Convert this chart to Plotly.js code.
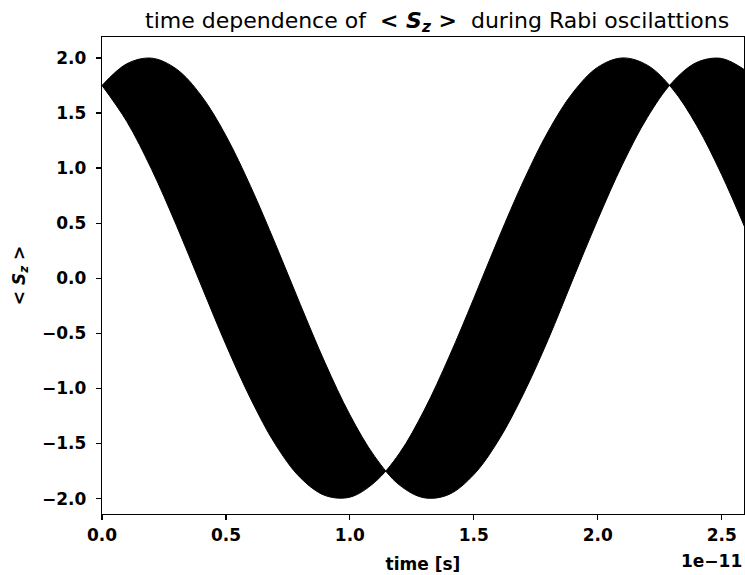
<!DOCTYPE html>
<html>
<head>
<meta charset="utf-8">
<script src="https://cdn.plot.ly/plotly-3.0.1.min.js"></script>
<style>html,body{margin:0;padding:0;background:#fff;}#chart{width:745px;height:575px;}</style>
</head>
<body>
<div id="chart"></div>
<script>
// time in units of 1e-11 s
const time = [0.0,0.1,0.2,0.3,0.4,0.5,0.6,0.7,0.8,0.9,1.0,1.1,1.2,1.3,1.4,1.5,1.6,1.7,1.8,1.9,2.0,2.1,2.2,2.3,2.4,2.5,2.6];
// envelope curves of the fast oscillating <S_z>
const envelopeA = [1.750,1.947,1.998,1.900,1.659,1.294,0.831,0.309,-0.238,-0.768,-1.240,-1.617,-1.877,-1.993,-1.962,-1.782,-1.470,-1.051,-0.556,-0.007,0.533,1.035,1.460,1.777,1.960,1.995,1.881];
const envelopeB = [1.750,1.423,0.989,0.481,-0.063,-0.603,-1.095,-1.510,-1.810,-1.972,-1.987,-1.852,-1.589,-1.197,-0.715,-0.183,0.364,0.881,1.333,1.686,1.916,2.000,1.934,1.723,1.383,0.940,0.426];
const xTicks = [0.0,0.5,1.0,1.5,2.0,2.5];
const xTickText = ['0.0','0.5','1.0','1.5','2.0','2.5'];
const yTicks = [-2.0,-1.5,-1.0,-0.5,0.0,0.5,1.0,1.5,2.0];
const yTickText = ['\u22122.0','\u22121.5','\u22121.0','\u22120.5','0.0','0.5','1.0','1.5','2.0'];

const F = 'DejaVu Sans, sans-serif';
const traces = [
  {x: time, y: envelopeA, mode: 'lines', line: {color: '#000', width: 1, shape: 'spline'}, hoverinfo: 'skip', showlegend: false},
  {x: time, y: envelopeB, mode: 'lines', line: {color: '#000', width: 1, shape: 'spline'}, fill: 'tonexty', fillcolor: '#000', hoverinfo: 'skip', showlegend: false}
];
const axisCommon = {
  showgrid: false, zeroline: false, showline: true, linecolor: '#000', linewidth: 1.3, mirror: true,
  ticks: 'outside', ticklen: 5, tickwidth: 1.2, tickcolor: '#000',
  tickfont: {family: F, size: 17, weight: 'bold', color: '#000'}
};
const layout = {
  width: 745, height: 575,
  margin: {l: 102, r: 1, t: 37, b: 61},
  paper_bgcolor: '#fff', plot_bgcolor: '#fff',
  title: {text: 'time dependence of&nbsp;&nbsp;<b><i>&lt; S<sub>z</sub> &gt;</i></b>&nbsp;&nbsp;during Rabi oscilattions',
          font: {family: F, size: 22, color: '#000'}, x: 0.522, xref: 'paper', xanchor: 'center',
          y: 1 - 20/575, yref: 'container', yanchor: 'middle'},
  xaxis: Object.assign({}, axisCommon, {range: [0, 2.59], tickvals: xTicks, ticktext: xTickText,
          title: {text: '<b>time [s]</b>', font: {family: F, size: 17, color: '#000'}, standoff: 14}}),
  yaxis: Object.assign({}, axisCommon, {range: [-2.14, 2.19], tickvals: yTicks, ticktext: yTickText, ticklabelstandoff: 6,
          title: {text: '<b><i>&lt; S<sub>z</sub> &gt;</i></b>', font: {family: F, size: 17, color: '#000'}, standoff: 12}}),
  annotations: [{text: '<b>1e\u221211</b>', xref: 'paper', yref: 'paper', x: 1, y: 0, xanchor: 'right', yanchor: 'middle',
                 yshift: -47, showarrow: false, font: {family: F, size: 17, color: '#000'}}]
};
Plotly.newPlot('chart', traces, layout, {displayModeBar: false, staticPlot: true});
</script>
</body>
</html>
